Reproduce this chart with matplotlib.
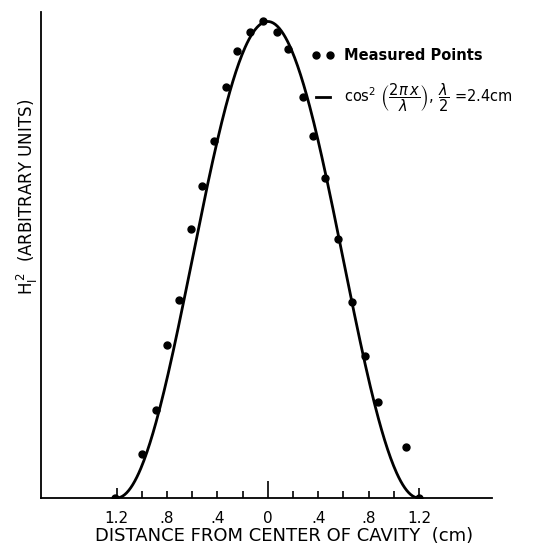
import matplotlib
matplotlib.use("Agg")
import matplotlib.pyplot as plt
import numpy as np

# measured points (cm, arbitrary units)
x_meas = [-1.21, -1.00, -0.89, -0.80, -0.705, -0.607, -0.52, -0.43, -0.33, -0.244, -0.14, -0.04,
          0.074, 0.16, 0.276, 0.36, 0.453, 0.56, 0.67, 0.774, 0.877, 1.097, 1.20]
y_meas = [0.0, 0.092, 0.185, 0.321, 0.416, 0.564, 0.654, 0.75, 0.863, 0.937, 0.978, 1.0,
          0.978, 0.943, 0.842, 0.76, 0.672, 0.543, 0.412, 0.299, 0.202, 0.108, 0.0]

wavelength = 4.8  # cm, lambda/2 = 2.4 cm
tick_pos = [-1.2, -1.0, -0.8, -0.6, -0.4, -0.2, 0.0, 0.2, 0.4, 0.6, 0.8, 1.0, 1.2]
tick_lab = ["1.2", "", ".8", "", ".4", "", "0", "", ".4", "", ".8", "", "1.2"]

fig = plt.figure(figsize=(5.5, 5.48), dpi=100)
ax = fig.add_axes([0.0745, 0.0912, 0.82, 0.887])

xc = np.linspace(-wavelength / 4, wavelength / 4, 300)
ax.plot(xc, np.cos(2 * np.pi * xc / wavelength) ** 2, color="black", lw=2.0,
        label=r"$\cos^2\,\left(\dfrac{2\pi\,x}{\lambda}\right),\,\dfrac{\lambda}{2}$ =2.4cm")
ax.plot(x_meas, y_meas, "o", color="black", ms=5, label="Measured Points")

ax.set_xlim(-1.8, 1.78)
ax.set_ylim(0, 1.02)
ax.spines["top"].set_visible(False)
ax.spines["right"].set_visible(False)
ax.spines["left"].set_linewidth(1.3)
ax.spines["bottom"].set_linewidth(1.3)
ax.set_yticks([])

ax.set_xticks(tick_pos)
ax.set_xticklabels(tick_lab, fontsize=11)
ax.tick_params(axis="x", direction="in", width=1.2, length=5, pad=9)
for t, p in zip(ax.xaxis.get_major_ticks(), tick_pos):
    if p == 0:
        t.tick1line.set_markersize(12)
    elif abs(p) == 1.2:
        t.tick1line.set_markersize(7.5)

ax.set_xlabel("DISTANCE FROM CENTER OF CAVITY  (cm)", fontsize=13)
ax.xaxis.set_label_coords(0.54, -0.06)
fig.text(0.05, 0.64, r"H$_\mathrm{I}^{\,2}$  (ARBITRARY UNITS)", rotation=90,
         ha="center", va="center", fontsize=12)

h, l = ax.get_legend_handles_labels()
leg = ax.legend(h[::-1], l[::-1], loc="upper left", bbox_to_anchor=(0.572, 0.952),
                frameon=False, numpoints=2, handlelength=1.5, handletextpad=0.7,
                labelspacing=1.25, prop={"size": 10.5})
leg.get_texts()[0].set_fontweight("bold")

fig.savefig("out.png", dpi=100)
